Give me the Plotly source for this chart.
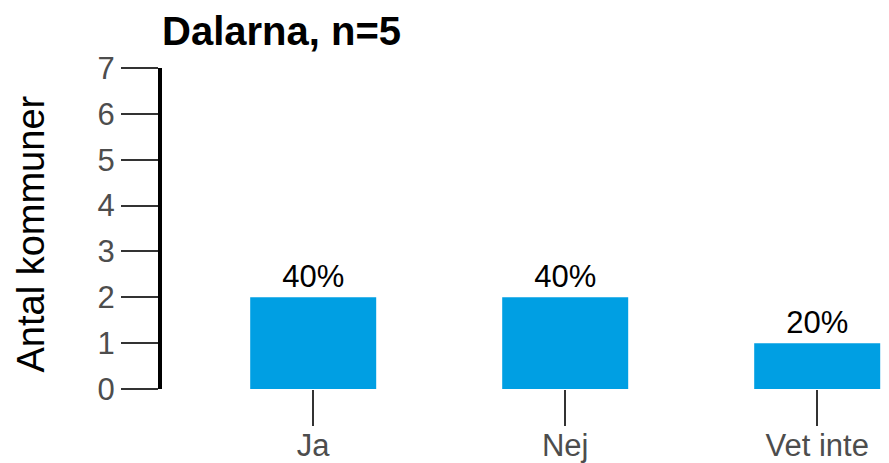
import plotly.graph_objects as go

categories = ["Ja", "Nej", "Vet inte"]
counts = [2, 2, 1]
pct_labels = ["40%", "40%", "20%"]
y_ticks = [0, 1, 2, 3, 4, 5, 6, 7]

title_text = "Dalarna, n=5"
y_title = "Antal kommuner"

OFF = 8  # page body margin offset
W, H = 889 - OFF, 463 - OFF
L, T = 162 - OFF, 68 - OFF
B = H - (389 - OFF)
R = 0
PW = W - L - R

fig = go.Figure()
fig.add_trace(go.Bar(
    x=[0, 1, 2],
    y=counts,
    width=0.5,
    marker=dict(color="#009FE3", line=dict(width=0)),
    text=pct_labels,
    textposition="outside",
    textfont=dict(family="Liberation Sans, Arial", size=31, color="#000000"),
    cliponaxis=False,
))

fig.update_layout(
    width=W, height=H,
    margin=dict(l=L, r=R, t=T, b=B, autoexpand=False),
    paper_bgcolor="white", plot_bgcolor="white",
    showlegend=False,
    font=dict(family="Liberation Sans, Arial"),
    title=dict(
        text="<b>" + title_text + "</b>",
        x=0, xref="paper", xanchor="left",
        y=1 - (31 - OFF) / H, yref="container", yanchor="middle",
        font=dict(family="Liberation Sans, Arial", size=40, color="#000000"),
    ),
    xaxis=dict(
        range=[-0.6, PW / 252 - 0.6],
        tickmode="array", tickvals=[0, 1, 2], ticktext=categories,
        ticks="outside", ticklen=36, tickwidth=2, tickcolor="#333333",
        tickfont=dict(family="Liberation Sans, Arial", size=31, color="#4D4D4D"),
        ticklabelstandoff=-7,
        showline=False, showgrid=False, zeroline=False,
        fixedrange=True,
    ),
    yaxis=dict(
        range=[0, 7],
        tickmode="array", tickvals=y_ticks,
        ticks="outside", ticklen=37, tickwidth=2, tickcolor="#333333",
        tickfont=dict(family="Liberation Sans, Arial", size=31, color="#4D4D4D"),
        showline=True, linewidth=4, linecolor="#000000",
        showgrid=False, zeroline=False,
        fixedrange=True,
    ),
    annotations=[dict(
        text=y_title, textangle=-90,
        xref="paper", yref="paper",
        x=(30 - 162) / PW, y=0.5, yshift=-6,
        xanchor="center", yanchor="middle",
        showarrow=False,
        font=dict(family="Liberation Sans, Arial", size=38, color="#000000"),
    )],
)

fig.write_html("out.html")
